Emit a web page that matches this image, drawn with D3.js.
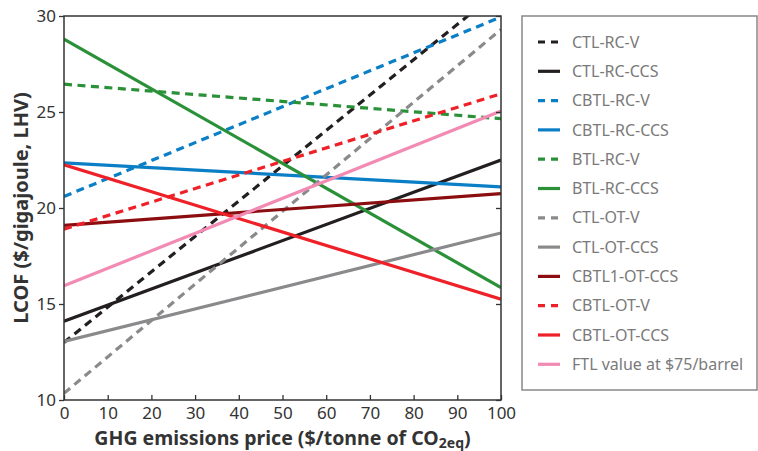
<!DOCTYPE html>
<html>
<head>
<meta charset="utf-8">
<script src="https://cdn.jsdelivr.net/npm/d3@7"></script>
<style>
  body { margin: 0; background: #fff; }
  svg { font-family: "Noto Sans", "Open Sans", sans-serif; }
</style>
</head>
<body>
<div id="chart"></div>
<script>
// GHG price on the x axis, two end points per series
let prices = [0, 100];

let ctlRcV = [13.0, 31.4];
let ctlRcCcs = [14.1, 22.5];
let cbtlRcV = [20.6, 29.95];
let cbtlRcCcs = [22.35, 21.1];
let btlRcV = [26.45, 24.65];
let btlRcCcs = [28.8, 15.85];
let ctlOtV = [10.35, 29.3];
let ctlOtCcs = [13.05, 18.7];
let cbtl1OtCcs = [19.1, 20.75];
let cbtlOtV = [18.9, 25.95];
let cbtlOtCcs = [22.25, 15.25];
let ftlValue = [15.95, 25.05];

let seriesNames = ["CTL-RC-V", "CTL-RC-CCS", "CBTL-RC-V", "CBTL-RC-CCS", "BTL-RC-V", "BTL-RC-CCS",
  "CTL-OT-V", "CTL-OT-CCS", "CBTL1-OT-CCS", "CBTL-OT-V", "CBTL-OT-CCS", "FTL value at $75/barrel"];
let seriesValues = [ctlRcV, ctlRcCcs, cbtlRcV, cbtlRcCcs, btlRcV, btlRcCcs,
  ctlOtV, ctlOtCcs, cbtl1OtCcs, cbtlOtV, cbtlOtCcs, ftlValue];
let seriesColors = ["#231f20", "#231f20", "#0a7fc6", "#0a7fc6", "#2a9139", "#2a9139",
  "#8a8a8c", "#8a8a8c", "#8b0d10", "#ee2028", "#ee2028", "#f28bb4"];
let seriesDashed = [true, false, true, false, true, false, true, false, false, true, false, false];

let xTicks = [0, 10, 20, 30, 40, 50, 60, 70, 80, 90, 100];
let yTicks = [10, 15, 20, 25, 30];

// set the dimensions and margins of the graph
let margin = { top: 16, right: 257, bottom: 51, left: 64 },
    width = 758 - margin.left - margin.right,
    height = 451 - margin.top - margin.bottom;

let svg = d3.select("#chart")
    .append("svg")
    .attr("width", 758)
    .attr("height", 451);

let g = svg.append("g")
    .attr("transform", "translate(" + margin.left + "," + margin.top + ")");

let x = d3.scaleLinear().domain([0, 100]).range([0, width]);
let y = d3.scaleLinear().domain([10, 30]).range([height, 0]);

g.append("clipPath").attr("id", "plot-clip")
    .append("rect")
    .attr("width", width)
    .attr("height", height);

// lines
let line = d3.line()
    .x(function (d, i) { return x(prices[i]) })
    .y(function (d) { return y(d) });

let lines = g.append("g").attr("clip-path", "url(#plot-clip)");
seriesValues.forEach(function (vals, i) {
    lines.append("path")
        .datum(vals)
        .attr("d", line)
        .attr("fill", "none")
        .attr("stroke", seriesColors[i])
        .attr("stroke-width", 3.2)
        .attr("stroke-dasharray", seriesDashed[i] ? "8,5.5" : null);
});

// frame
g.append("rect")
    .attr("width", width)
    .attr("height", height)
    .attr("fill", "none")
    .attr("stroke", "#333")
    .attr("stroke-width", 1.5);

// axes
let xAxis = g.append("g")
    .attr("transform", "translate(0," + height + ")")
    .call(d3.axisBottom(x).tickValues(xTicks).tickSize(-5).tickPadding(7));

let yAxis = g.append("g")
    .call(d3.axisLeft(y).tickValues(yTicks).tickSize(5).tickPadding(3));

let yAxisRight = g.append("g")
    .attr("transform", "translate(" + width + ",0)")
    .call(d3.axisRight(y).tickValues(yTicks).tickSize(-5).tickFormat(""));

[xAxis, yAxis, yAxisRight].forEach(function (a) {
    a.select(".domain").remove();
    a.selectAll(".tick line").attr("stroke", "#333").attr("stroke-width", 1.3);
    a.selectAll("text")
        .style("font-size", "17px")
        .style("font-family", "'Noto Sans', sans-serif")
        .attr("fill", "#333");
});

// axis titles
let xTitle = svg.append("text")
    .attr("x", margin.left + width / 2)
    .attr("y", 445)
    .attr("text-anchor", "middle")
    .style("font-size", "19.5px")
    .style("font-weight", "bold")
    .attr("fill", "#333");
xTitle.append("tspan").text("GHG emissions price ($/tonne of CO");
xTitle.append("tspan").attr("dy", 3).style("font-size", "14px").text("2eq");
xTitle.append("tspan").attr("dy", -3).text(")");

svg.append("text")
    .attr("transform", "translate(28," + (margin.top + height / 2) + ") rotate(-90)")
    .attr("text-anchor", "middle")
    .style("font-size", "20px")
    .style("font-weight", "bold")
    .attr("fill", "#333")
    .text("LCOF ($/gigajoule, LHV)");

// legend
let legend = svg.append("g");
legend.append("rect")
    .attr("x", 522)
    .attr("y", 16)
    .attr("width", 235)
    .attr("height", 374)
    .attr("fill", "none")
    .attr("stroke", "#888")
    .attr("stroke-width", 1.5);

seriesNames.forEach(function (name, i) {
    let ly = 42 + i * 29.3;
    legend.append("line")
        .attr("x1", 538)
        .attr("x2", 560)
        .attr("y1", ly)
        .attr("y2", ly)
        .attr("stroke", seriesColors[i])
        .attr("stroke-width", 3.2)
        .attr("stroke-dasharray", seriesDashed[i] ? "7,6" : null);
    legend.append("text")
        .attr("x", 572)
        .attr("y", ly)
        .attr("dy", "0.35em")
        .style("font-size", "16px")
        .attr("fill", "#7a7a7a")
        .text(name);
});
</script>
</body>
</html>
